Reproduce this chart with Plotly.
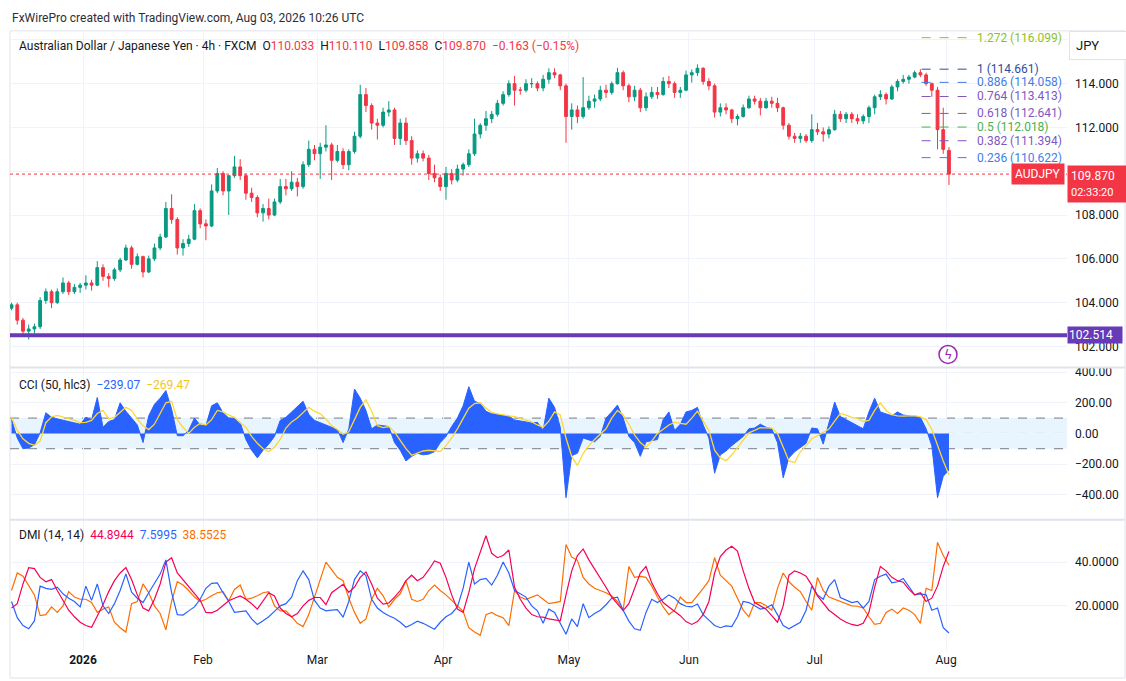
import pandas as pd
import plotly.graph_objects as go

# ---------------- data ----------------
holidays = ["2025-12-25", "2026-01-01"]
dates = [d.strftime("%Y-%m-%d") for d in pd.bdate_range("2025-12-12", "2026-08-03")
         if d.strftime("%Y-%m-%d") not in holidays]

opens = [
    # Dec
    103.75, 103.9, 103.2, 102.7, 102.8, 102.9, 104.1, 104.5, 104.0, 104.5, 104.9, 104.5, 104.7,
    # Jan
    104.8, 104.9, 104.8, 105.6, 105.2, 105.1, 105.5, 105.95, 106.5, 105.75, 106.1, 105.4, 106.0,
    106.5, 107.0, 108.3, 107.8, 106.5, 106.7, 106.9, 108.2,
    # Feb
    107.6, 107.5, 109.1, 109.9, 109.1, 109.8, 110.2, 109.8, 109.0, 108.8, 108.1, 108.3, 108.0,
    108.6, 109.3, 109.2, 109.5, 109.3, 110.3, 111.0,
    # Mar
    110.8, 111.1, 111.2, 110.5, 110.9, 110.3, 110.9, 111.6, 113.5, 113.0, 112.2, 112.1, 112.7,
    112.8, 111.5, 112.2, 111.4, 110.6, 110.8, 110.6, 109.9, 109.7,
    # Apr
    109.3, 109.9, 109.6, 110.1, 110.3, 110.8, 111.7, 112.1, 112.4, 112.6, 113.1, 113.5, 114.0,
    113.7, 113.7, 114.0, 114.0, 113.8, 114.2, 114.5, 114.4, 113.9,
    # May
    112.5, 112.8, 112.5, 112.9, 113.2, 113.3, 113.7, 113.6, 114.0, 114.5, 113.9, 113.4, 113.7,
    112.9, 113.4, 113.6, 113.5, 114.1, 114.0, 113.6, 113.7,
    # Jun
    114.4, 114.5, 114.7, 114.1, 113.9, 112.7, 112.9, 112.8, 112.4, 112.5, 112.9, 113.3, 113.2,
    112.9, 113.2, 113.1, 112.9, 112.1, 111.6, 111.5, 111.6, 111.4,
    # Jul
    111.9, 111.8, 111.7, 111.9, 112.6, 112.4, 112.6, 112.4, 112.3, 112.5, 112.9, 113.4, 113.5,
    113.3, 113.85, 114.1, 114.2, 114.3, 114.5, 114.4, 114.0, 113.7, 111.9,
    # Aug
    110.95,
]
highs = [
    104.0, 104.0, 103.3, 103.0, 103.05, 104.25, 104.65, 104.6, 104.65, 105.15, 105.0, 104.85, 104.9,
    105.25, 105.05, 105.9, 105.75, 105.35, 105.6, 106.05, 106.65, 106.6, 106.25, 106.15, 106.15, 106.7,
    107.15, 108.6, 108.95, 107.9, 106.9, 107.1, 108.5, 108.3,
    107.8, 109.4, 110.15, 110.0, 109.3, 110.7, 110.55, 109.9, 109.25, 108.9, 108.5, 108.75, 108.75,
    109.65, 109.65, 110.0, 109.7, 110.45, 111.4, 111.2,
    111.3, 112.1, 111.3, 111.2, 111.05, 111.0, 111.8, 113.95, 113.8, 113.1, 112.4, 112.9, 113.2,
    112.9, 112.4, 112.45, 111.6, 110.95, 110.95, 110.75, 110.3, 109.85,
    110.2, 110.1, 110.3, 110.4, 111.0, 112.4, 112.2, 112.75, 112.75, 113.25, 113.65, 114.15, 114.35,
    113.85, 114.2, 114.25, 114.1, 114.4, 114.7, 114.7, 114.45, 114.0,
    113.1, 113.0, 114.3, 113.45, 113.5, 113.9, 113.95, 114.1, 114.72, 114.6, 114.0, 113.9, 113.8,
    113.6, 113.85, 113.85, 114.3, 114.35, 114.1, 113.85, 114.6,
    114.65, 114.88, 114.75, 114.25, 114.0, 113.1, 113.1, 112.85, 112.6, 113.05, 113.45, 113.45, 113.35,
    113.35, 113.4, 113.35, 112.95, 112.2, 111.75, 111.75, 111.7, 112.6,
    112.2, 112.0, 112.05, 112.8, 112.75, 112.7, 112.7, 112.6, 112.6, 113.0, 113.5, 113.7, 113.6,
    113.95, 114.2, 114.4, 114.4, 114.6, 114.661, 114.5, 114.05, 113.85, 112.9,
    111.1,
]
lows = [
    103.65, 103.0, 102.5, 102.32, 102.6, 102.8, 103.95, 103.75, 103.95, 104.4, 104.35, 104.4, 104.45,
    104.6, 104.55, 104.75, 105.0, 104.7, 105.0, 105.4, 105.9, 105.55, 105.7, 105.15, 105.35, 105.9,
    106.4, 106.95, 107.6, 106.2, 106.15, 106.55, 106.85, 107.4,
    106.85, 107.45, 109.0, 108.9, 108.0, 109.7, 109.6, 108.7, 108.6, 107.9, 107.7, 107.8, 107.95,
    108.5, 108.9, 109.1, 108.85, 109.2, 110.2, 110.5,
    109.65, 110.9, 109.6, 110.4, 110.1, 110.05, 110.8, 111.5, 112.7, 111.9, 111.45, 112.0, 112.5,
    111.2, 111.2, 111.2, 110.3, 110.4, 110.45, 109.6, 109.5, 109.1,
    108.7, 109.4, 109.5, 109.8, 110.2, 110.7, 111.5, 111.85, 112.2, 112.5, 113.0, 113.4, 113.0,
    113.5, 113.6, 113.8, 113.65, 113.65, 114.0, 114.25, 113.7, 111.3,
    111.9, 112.2, 112.4, 112.8, 112.9, 113.2, 113.35, 113.5, 113.95, 113.7, 113.15, 113.2, 112.7,
    112.75, 113.3, 113.3, 113.45, 113.8, 113.35, 113.35, 113.65,
    114.05, 114.35, 113.95, 113.7, 112.45, 112.5, 112.6, 112.2, 112.1, 112.45, 112.85, 113.05, 112.55,
    112.85, 112.9, 112.7, 111.9, 111.45, 111.3, 111.3, 111.3, 111.3,
    111.65, 111.35, 111.5, 111.85, 112.25, 112.2, 112.2, 112.15, 112.15, 112.2, 112.6, 113.25, 113.05,
    113.25, 113.65, 114.0, 114.0, 114.25, 114.3, 113.9, 113.4, 111.0, 110.8,
    109.375,
]
closes = [
    103.9, 103.2, 102.7, 102.8, 102.9, 104.1, 104.5, 104.0, 104.5, 104.9, 104.5, 104.7, 104.8,
    104.9, 104.8, 105.6, 105.2, 105.1, 105.5, 105.95, 106.5, 105.75, 106.1, 105.4, 106.0, 106.5,
    107.0, 108.3, 107.8, 106.5, 106.7, 106.9, 108.2, 107.6,
    107.5, 109.1, 109.9, 109.1, 109.8, 110.2, 109.8, 109.0, 108.8, 108.1, 108.3, 108.0, 108.6,
    109.3, 109.2, 109.5, 109.3, 110.3, 111.0, 110.8,
    111.1, 111.2, 110.5, 110.9, 110.3, 110.9, 111.6, 113.5, 113.0, 112.2, 112.1, 112.7, 112.8,
    111.5, 112.2, 111.4, 110.6, 110.8, 110.6, 109.9, 109.7, 109.3,
    109.9, 109.6, 110.1, 110.3, 110.8, 111.7, 112.1, 112.4, 112.6, 113.1, 113.5, 114.0, 113.7,
    113.7, 114.0, 114.0, 113.8, 114.2, 114.5, 114.4, 113.9, 112.5,
    112.8, 112.5, 112.9, 113.2, 113.3, 113.7, 113.6, 114.0, 114.5, 113.9, 113.4, 113.7, 112.9,
    113.4, 113.6, 113.5, 114.1, 114.0, 113.6, 113.7, 114.4,
    114.5, 114.7, 114.1, 113.9, 112.7, 112.9, 112.8, 112.4, 112.5, 112.9, 113.3, 113.2, 112.9,
    113.2, 113.1, 112.9, 112.1, 111.6, 111.5, 111.6, 111.4, 111.9,
    111.8, 111.7, 111.9, 112.6, 112.4, 112.6, 112.4, 112.3, 112.5, 112.9, 113.4, 113.5, 113.3,
    113.85, 114.1, 114.2, 114.3, 114.5, 114.4, 114.0, 113.7, 111.9, 111.0,
    109.87,
]

cci = [
    90, -30, -100, -95, -75, 5, 135, 105, 95, 85, 75, 65, 60,
    105, 90, 235, 40, 78, 90, 200, 145, 100, 55, -60, 115, 190, 230, 280, 160, -15, -15, 20, 100, 55,
    50, 180, 200, 135, 100, 95, 70, -40, -110, -160, -110, -70, -20, 85, 105, 140, 175, 210, 125, 85,
    70, 55, 40, 25, -60, 30, 290, 230, 150, 30, 55, 50, 45, -60, -110, -180, -150, -130, -140, -135, -120, -60,
    -20, 45, 100, 180, 305, 210, 195, 145, 128, 125, 118, 112, 88, 80, 72, 68, 72, 20, 230, 170, 40, -420,
    -145, -130, -30, -40, -55, -20, 100, 140, 185, 100, -20, -60, -150, -55, -45, -40, 90, 140, 20, 60, 140,
    150, 170, 55, -30, -260, -140, -115, -80, -50, -20, 30, 35, 60, 40, 30, -60, -290, -160, -120, -90, -65, 35,
    30, -70, 60, 205, 110, 90, 70, 55, 30, 140, 230, 140, 130, 115, 140, 120, 115, 110, 105, 30, -80, -420, -280,
    -239.07,
]
cci_ma = [
    105, 20, -35, -65, -78, -50, 70, 108, 118, 108, 100, 85, 70,
    72, 85, 130, 150, 95, 105, 140, 170, 150, 95, 50, 25, 60, 130, 200, 210, 90, 40, 0, 40, 65,
    55, 90, 150, 140, 120, 105, 70, 40, -20, -65, -100, -120, -90, -40, 35, 75, 100, 135, 170, 145,
    128, 95, 50, 25, -5, 10, 90, 170, 220, 145, 50, 38, 45, 10, -45, -100, -143, -130, -115, -110, -113, -118,
    -80, -30, 30, 100, 165, 195, 200, 165, 138, 128, 120, 115, 110, 98, 88, 75, 55, 40, 80, 140, 120, -30,
    -150, -210, -130, -80, -40, -5, 30, 100, 150, 120, 60, -10, -60, -90, -50, 0, 28, 55, 72, 65, 60,
    100, 145, 80, 20, -110, -160, -178, -140, -93, -45, 4, 20, 37, 36, 35, 0, -90, -180, -190, -120, -80, -35,
    -15, 5, 28, 80, 130, 120, 105, 98, 78, 85, 150, 200, 150, 122, 115, 113, 115, 116, 108, 90, 26, -80, -180,
    -269.47,
]
adx = [
    19, 21, 30, 37.4, 37, 33, 31, 32, 27, 22.3, 18, 15, 12.5,
    11, 10.2, 15.4, 20.5, 26.5, 31.5, 35, 37.5, 32, 25, 19, 17.7, 23, 30, 40, 42, 35, 32, 28.5, 25.5, 22.5,
    17, 16.8, 18, 20, 22.3, 23.5, 24.5, 23, 21, 18.5, 22.5, 26, 24.5, 19, 16.5, 15, 16.5, 20, 22.5, 23.8,
    23.8, 20.5, 26, 28, 29.8, 26.2, 28.5, 33, 35.5, 30, 23.5, 20.8, 21.3, 24, 27, 31.5, 34, 31.5, 33, 36.5, 40.5, 39.5,
    33, 25, 18.5, 17, 26, 37, 45, 52, 44, 42, 43, 45.5, 28.5, 23, 19, 16, 15, 14.8, 14, 13.7, 13.2, 25,
    36, 43, 46, 41, 37, 33, 28.5, 24, 21, 17.8, 21, 28, 35, 38, 30.5, 25.5, 21.5, 19.5, 17.7, 15.5, 12.8,
    11.5, 12.8, 16, 22, 35, 42.5, 45.5, 47.2, 45, 36, 28, 21.5, 20, 18.5, 15.5, 12.5, 20, 34, 36, 35, 33.5, 29.5,
    24.5, 21, 18, 16, 14, 12.5, 11.5, 11, 12, 17, 28.5, 38, 36, 33, 31.5, 30.8, 27.5, 25, 26, 22, 23.5, 29, 38,
    44.8944,
]
plus_di = [
    22, 14.6, 11, 9.5, 13.1, 29, 28, 27.5, 28.5, 25.5, 23.5, 22, 19.5,
    29, 22.5, 30, 20, 16.5, 21, 27, 34.6, 26.2, 23.5, 21.5, 26, 30, 34.5, 41, 26, 16, 15.8, 17.7, 19.5, 23,
    28, 30.3, 30.5, 26, 22, 17, 17.3, 17.7, 14, 11.5, 13.2, 15, 17.5, 20, 21, 24, 31.5, 36, 32, 22.5,
    19, 17.7, 18, 18.3, 14.8, 22, 32, 36, 33.8, 23, 19, 17, 15.5, 14.3, 12.5, 10.2, 11.5, 13, 12, 10.5, 9.3, 12.5,
    15, 16.5, 19.5, 28, 40, 30, 32, 32.5, 29.5, 34, 40, 35, 27, 25.5, 24, 20, 17.7, 12, 18.5, 17, 12, 7,
    14, 10.5, 21, 14.6, 16.5, 18, 20.5, 23.5, 24, 18, 13, 9.5, 8.8, 17, 23, 21.5, 23, 25, 23.5, 21, 19.8,
    19.5, 20.8, 16, 13.5, 11, 10, 10.8, 10.5, 15, 22, 21.5, 20, 18.5, 19, 20.5, 16, 11, 9.5, 11, 12.5, 18, 29,
    25, 23, 29, 32, 23.8, 22.5, 21.5, 22, 19, 22, 32, 33.5, 34.5, 30.5, 31, 32.5, 29, 25, 25.5, 25, 18, 19, 10,
    7.5995,
]
minus_di = [
    27, 35, 33.5, 29, 25, 15.5, 16, 19.5, 17, 20, 26.5, 24, 23,
    23, 21.5, 17, 18.5, 19.5, 12.5, 10, 8, 21, 22, 30, 26, 20, 16.5, 9, 22, 31, 29.5, 27, 24, 22,
    23, 24.6, 26, 26.5, 22.3, 27.5, 29.5, 23, 23.5, 24.6, 26, 26.5, 20, 17.7, 17.7, 15, 12, 10.5, 16, 24,
    32, 40, 36.5, 33, 31.5, 23.5, 17, 12, 14, 23, 28, 24.6, 19.5, 23, 25.5, 31.5, 23, 22, 23, 27, 29.5, 27,
    25, 22.5, 20, 17.5, 10, 8, 6.5, 16, 17, 15.5, 14.6, 11, 27, 24, 23, 24, 25, 23, 21, 21.5, 22, 48,
    42.3, 40.8, 33, 30, 28, 27, 26, 24.5, 22, 18, 38, 33, 33.5, 33, 29, 24, 19.5, 16, 18, 24, 21.5,
    21.5, 24.6, 28, 31.5, 42, 34, 31.5, 29, 23.5, 18, 15, 21.5, 21.5, 20, 18, 28, 35, 31, 28.5, 26.5, 22, 18,
    33, 27, 24, 23, 22.3, 21.2, 20, 19.8, 19, 15, 11.5, 12, 17, 18.5, 16.5, 19, 18, 16, 12, 28, 27, 49, 43,
    38.5525,
]

last_bar = {"O": 110.033, "H": 110.110, "L": 109.858, "C": 109.870}
last_change, last_change_pct = -0.163, -0.15
support_level = 102.514
countdown = "02:33:20"
fib_ratios = [1.272, 1, 0.886, 0.764, 0.618, 0.5, 0.382, 0.236]
fib_prices = [116.099, 114.661, 114.058, 113.413, 112.641, 112.018, 111.394, 110.622]
fib_colors = ["#8fbf2f", "#2b4f9e", "#3f7de8", "#7e57c2", "#7e57c2", "#4caf50", "#7e57c2", "#3f7de8"]
price_ticks = [102, 104, 106, 108, 110, 112, 114, 116]
price_tick_text = ["102.000", "104.000", "106.000", "108.000", "", "112.000", "114.000", ""]
month_ticks = ["2026-01-02", "2026-02-02", "2026-03-02", "2026-04-01", "2026-05-01",
               "2026-06-01", "2026-07-01", "2026-08-03"]
month_labels = ["<b>2026</b>", "Feb", "Mar", "Apr", "May", "Jun", "Jul", "Aug"]

# ---------------- layout helpers ----------------
W, H = 1126, 681
def px_x(p):
    return p / W
def px_y(p):
    return 1 - p / H

FONT = "Roboto, 'Noto Sans', sans-serif"
TXT = "#131722"
GRID = "#f0f3fa"
UP, DOWN = "#089981", "#f23645"
RED = "#f23645"

xs = [d + " 12:00" for d in dates]
x_left, x_right = px_x(10), px_x(1067)

fig = go.Figure()
fig.add_trace(go.Candlestick(
    x=xs, open=opens, high=highs, low=lows, close=closes,
    increasing=dict(line=dict(color=UP, width=1), fillcolor=UP),
    decreasing=dict(line=dict(color=DOWN, width=1), fillcolor=DOWN),
    xaxis="x", yaxis="y", hoverinfo="skip", showlegend=False))

fig.add_trace(go.Scatter(x=xs, y=cci, mode="lines", fill="tozeroy", fillcolor="#2962ff",
                         line=dict(color="#2962ff", width=1), xaxis="x2", yaxis="y2",
                         hoverinfo="skip", showlegend=False))
fig.add_trace(go.Scatter(x=xs, y=cci_ma, mode="lines", line=dict(color="#fdd835", width=1.3),
                         xaxis="x2", yaxis="y2", hoverinfo="skip", showlegend=False))

for series, col in [(minus_di, "#ff6d00"), (plus_di, "#2962ff"), (adx, "#f50057")]:
    fig.add_trace(go.Scatter(x=xs, y=series, mode="lines", line=dict(color=col, width=1.2),
                             xaxis="x3", yaxis="y3", hoverinfo="skip", showlegend=False))

rb = [dict(bounds=["sat", "mon"]), dict(values=holidays)]
xcommon = dict(type="date", range=["2025-12-12 05:30", "2026-09-01 03:36"], rangebreaks=rb,
               domain=[x_left, x_right], showgrid=True, gridcolor=GRID, gridwidth=1,
               tickvals=month_ticks, ticktext=month_labels, zeroline=False, showline=False,
               ticks="", fixedrange=True)
ycommon = dict(side="right", showgrid=True, gridcolor=GRID, zeroline=False, showline=False,
               ticks="", ticklabelstandoff=7,
               tickfont=dict(family=FONT, size=12, color=TXT), fixedrange=True)

fig.update_layout(
    width=W, height=H, margin=dict(l=0, r=0, t=0, b=0),
    paper_bgcolor="white", plot_bgcolor="white",
    font=dict(family=FONT, size=12, color=TXT),
    xaxis=dict(**xcommon, anchor="y", showticklabels=False, rangeslider=dict(visible=False)),
    xaxis2=dict(**xcommon, anchor="y2", matches="x", showticklabels=False),
    xaxis3=dict(**xcommon, anchor="y3", matches="x", showticklabels=True,
                tickfont=dict(family=FONT, size=12, color=TXT)),
    yaxis=dict(**ycommon, anchor="x", domain=[px_y(365), px_y(28)],
               range=[101.091, 116.409], tickvals=price_ticks, ticktext=price_tick_text),
    yaxis2=dict(**ycommon, anchor="x2", domain=[px_y(518), px_y(367)],
                range=[-557.4, 424.7], tickvals=[-400, -200, 0, 200, 400], tickformat=".2f"),
    yaxis3=dict(**ycommon, anchor="x3", domain=[px_y(651), px_y(520)],
                range=[-0.7, 58.9], tickvals=[20, 40], tickformat=".4f"),
)

shapes = []
# chart frame and pane separators
shapes.append(dict(type="rect", xref="paper", yref="paper", x0=px_x(10), x1=px_x(1125),
                   y0=px_y(678), y1=px_y(28), line=dict(color="#e0e3eb", width=1), layer="below"))
for ysep in (366, 519):
    shapes.append(dict(type="line", xref="paper", yref="paper", x0=px_x(10), x1=px_x(1125),
                       y0=px_y(ysep), y1=px_y(ysep), line=dict(color="#e0e3eb", width=2)))
# CCI band and levels
shapes.append(dict(type="rect", xref="x2 domain", yref="y2", x0=0, x1=1, y0=-100, y1=100,
                   fillcolor="rgba(33,150,243,0.1)", line=dict(width=0), layer="below"))
for lvl, col in [(100, "#787b86"), (-100, "#787b86"), (0, "rgba(120,123,134,0.45)")]:
    shapes.append(dict(type="line", xref="x2 domain", yref="y2", x0=0, x1=1, y0=lvl, y1=lvl,
                       line=dict(color=col, width=1, dash="dash"), layer="below"))
# last price dotted line and support line
shapes.append(dict(type="line", xref="x domain", yref="y", x0=0, x1=1, y0=closes[-1], y1=closes[-1],
                   line=dict(color=RED, width=1, dash="dot")))
shapes.append(dict(type="line", xref="x domain", yref="y", x0=0, x1=1, y0=support_level,
                   y1=support_level, line=dict(color="#673ab7", width=4)))
# fibonacci levels
for p, col in zip(fib_prices, fib_colors):
    shapes.append(dict(type="line", xref="x", yref="y", x0="2026-07-27 17:00", x1="2026-08-06 20:00",
                       y0=p, y1=p, line=dict(color=col, width=1, dash="dash")))
# lightning icon circle
shapes.append(dict(type="circle", xref="paper", yref="paper", x0=px_x(939), x1=px_x(957),
                   y0=px_y(362), y1=px_y(344), line=dict(color="#9c27b0", width=1.5)))
fig.update_layout(shapes=shapes)

ann = []
def add_text(x, y, text, size=12, color=TXT, **kw):
    ann.append(dict(xref="paper", yref="paper", x=px_x(x), y=px_y(y), text=text, showarrow=False,
                    xanchor="left", yanchor="middle", font=dict(family=FONT, size=size, color=color), **kw))

def red(v):
    return f"<span style='color:{RED}'>{v}</span>"

def fmt_signed(v, nd):
    s = f"{abs(v):.{nd}f}"
    return ("\u2212" + s) if v < 0 else s

sp = "\u00a0\u00a0"
add_text(10, 15, "FxWirePro created with TradingView.com, Aug 03, 2026 10:26 UTC", size=12, color="#2a2e39")
legend_txt = ("Australian Dollar / Japanese Yen · 4h · FXCM" + sp +
              "O" + red(f"{last_bar['O']:.3f}") + sp + "H" + red(f"{last_bar['H']:.3f}") + sp +
              "L" + red(f"{last_bar['L']:.3f}") + sp + "C" + red(f"{last_bar['C']:.3f}") + sp +
              red(f"{fmt_signed(last_change, 3)} ({fmt_signed(last_change_pct, 2)}%)"))
add_text(17, 43, legend_txt, size=12)
add_text(17, 384, "CCI (50, hlc3)" + sp + f"<span style='color:#2962ff'>{fmt_signed(cci[-1], 2)}</span>" + sp +
         f"<span style='color:#f5c518'>{fmt_signed(cci_ma[-1], 2)}</span>", size=12)
add_text(17, 534, "DMI (14, 14)" + sp + f"<span style='color:#f50057'>{adx[-1]:.4f}</span>" + sp +
         f"<span style='color:#2962ff'>{plus_di[-1]:.4f}</span>" + sp +
         f"<span style='color:#ff6d00'>{minus_di[-1]:.4f}</span>", size=12)

# fib labels
for r, p, col in zip(fib_ratios, fib_prices, fib_colors):
    ann.append(dict(xref="paper", yref="y", x=px_x(975), y=p, text=f"{r:g} ({p:.3f})", showarrow=False,
                    xanchor="left", yanchor="middle", font=dict(family=FONT, size=12, color=col)))

# price scale labels
ann.append(dict(xref="paper", yref="y", x=px_x(1065), y=closes[-1], text="AUDJPY", showarrow=False,
                xanchor="right", yanchor="middle", bgcolor=RED, borderpad=3,
                font=dict(family=FONT, size=12, color="white")))
ann.append(dict(xref="paper", yref="paper", x=px_x(1067), y=px_y(163),
                text=f"{closes[-1]:.3f}<br><span style='font-size:11px'>{countdown}</span>",
                showarrow=False, xanchor="left", yanchor="top", align="left", bgcolor=RED,
                borderpad=3, width=52, font=dict(family=FONT, size=12, color="white")))
ann.append(dict(xref="paper", yref="y", x=px_x(1067), y=support_level, text=f"{support_level:.3f}",
                showarrow=False, xanchor="left", yanchor="middle", align="left", bgcolor="#673ab7",
                borderpad=1, width=52, font=dict(family=FONT, size=12, color="white")))
ann.append(dict(xref="paper", yref="paper", x=px_x(1069), y=px_y(43), text="JPY", showarrow=False,
                xanchor="left", yanchor="middle", align="left", bgcolor="white", bordercolor="#e0e3eb",
                borderwidth=1, borderpad=6, width=46, font=dict(family=FONT, size=13, color=TXT)))
# lightning glyph
ann.append(dict(xref="paper", yref="paper", x=px_x(948), y=px_y(353), text="ϟ", showarrow=False,
                xanchor="center", yanchor="middle", font=dict(family="DejaVu Sans", size=13, color="#9c27b0")))
fig.update_layout(annotations=ann)

fig.write_html("out.html", config={"displayModeBar": False},
               post_script="document.body.style.margin='0';document.body.style.padding='0';")
